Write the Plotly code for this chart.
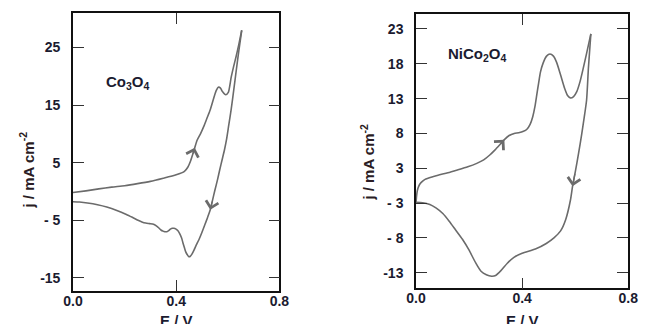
import plotly.graph_objects as go

# ---------------- Data ----------------
# Co3O4 cyclic voltammogram
co_anodic_E = [0.000, 0.050, 0.100, 0.150, 0.200, 0.250, 0.300, 0.350, 0.400, 0.432,
               0.445, 0.455, 0.463, 0.472, 0.481, 0.495, 0.507, 0.520, 0.532, 0.548,
               0.556, 0.563, 0.571, 0.580, 0.592, 0.602, 0.613, 0.622, 0.632, 0.643, 0.654]
co_anodic_j = [-0.2, 0.1, 0.45, 0.75, 1.0, 1.35, 1.75, 2.3, 2.9, 3.5,
               4.2, 5.2, 6.3, 7.6, 8.9, 10.1, 11.3, 12.8, 14.2, 16.6,
               17.6, 18.1, 18.0, 17.3, 16.8, 17.2, 19.8, 21.6, 23.4, 25.6, 28.0]
co_cathodic_E = [0.654, 0.643, 0.633, 0.623, 0.613, 0.604, 0.595, 0.587, 0.578, 0.569,
                 0.560, 0.550, 0.541, 0.532, 0.521, 0.511, 0.500, 0.488, 0.478, 0.469,
                 0.461, 0.454, 0.448, 0.443, 0.437, 0.432, 0.426, 0.421, 0.413, 0.406,
                 0.398, 0.391, 0.385, 0.379, 0.371, 0.364, 0.356, 0.349, 0.341, 0.334,
                 0.323, 0.312, 0.297, 0.282, 0.267, 0.252, 0.230, 0.207, 0.170, 0.131,
                 0.095, 0.056, 0.025, 0.000]
co_cathodic_j = [28.0, 24.5, 21.1, 17.6, 14.2, 11.6, 9.0, 7.2, 5.5, 3.8,
                 2.0, 0.2, -1.5, -3.2, -4.6, -5.8, -7.1, -8.4, -9.3, -10.2,
                 -10.9, -11.3, -11.3, -11.0, -10.5, -9.8, -8.9, -8.1, -7.3, -6.8,
                 -6.5, -6.4, -6.4, -6.5, -6.8, -7.0, -7.0, -6.9, -6.7, -6.4,
                 -6.0, -5.7, -5.6, -5.5, -5.3, -5.0, -4.5, -4.0, -3.3, -2.7,
                 -2.3, -2.0, -1.85, -1.8]

# NiCo2O4 cyclic voltammogram
ni_anodic_E = [0.000, 0.002, 0.005, 0.010, 0.016, 0.025, 0.034, 0.060, 0.083, 0.120,
               0.156, 0.195, 0.229, 0.255, 0.278, 0.297, 0.314, 0.333, 0.351, 0.370,
               0.387, 0.405, 0.418, 0.430, 0.440, 0.448, 0.455, 0.462, 0.469, 0.479,
               0.492, 0.505, 0.518, 0.530, 0.545, 0.560, 0.572, 0.582, 0.594, 0.606,
               0.618, 0.630, 0.643, 0.659]
ni_anodic_j = [-1.9, -1.0, -0.2, 0.4, 0.8, 1.15, 1.4, 1.75, 2.0, 2.35,
               2.75, 3.2, 3.7, 4.2, 4.9, 5.6, 6.3, 7.1, 7.7, 8.0,
               8.1, 8.3, 8.6, 9.3, 10.4, 11.8, 13.5, 15.2, 16.8, 18.1,
               19.1, 19.4, 19.1, 18.2, 16.4, 14.5, 13.4, 13.1, 13.3, 14.0,
               15.4, 17.3, 19.5, 22.3]
ni_cathodic_E = [0.659, 0.650, 0.643, 0.634, 0.625, 0.613, 0.600, 0.590, 0.582, 0.564,
                 0.545, 0.520, 0.491, 0.450, 0.400, 0.369, 0.345, 0.320, 0.300, 0.285,
                 0.265, 0.245, 0.225, 0.199, 0.175, 0.150, 0.125, 0.101, 0.075, 0.052,
                 0.025, 0.000]
ni_cathodic_j = [22.3, 17.5, 12.8, 10.3, 8.0, 5.2, 2.4, 0.4, -1.6, -4.4,
                 -6.0, -7.0, -7.8, -8.6, -9.2, -9.8, -10.6, -11.7, -12.4, -12.5,
                 -12.3, -11.8, -10.6, -8.7, -7.2, -5.9, -4.6, -3.5, -2.7, -2.2,
                 -1.95, -1.9]

# Axis ticks
x_tickvals = [0.0, 0.4, 0.8]
x_ticktext = ["0.0", "0.4", "0.8"]
co_tickvals = [25, 15, 5, -5, -15]
co_ticktext = ["25", "15", "5", "- 5", "-15"]
ni_tickvals = [23, 18, 13, 8, 3, -2, -7, -12]
ni_ticktext = ["23", "18", "13", "8", "3", "- 3", "- 8", "-13"]

# Indices of points where direction arrows (chevrons) are drawn
co_arrow_anodic, co_arrow_cathodic = 13, 13
ni_arrow_anodic, ni_arrow_cathodic = 17, 7

# ---------------- Figure ----------------
LINE = "#6b6b6b"
TXT = "#1b1b30"
FONT = "Liberation Sans, Arial, sans-serif"

fig = go.Figure()


def add_curve(E, j, xa, ya):
    fig.add_trace(go.Scatter(x=E, y=j, mode="lines", xaxis=xa, yaxis=ya,
                             line=dict(color=LINE, width=1.6, shape="spline", smoothing=0.6),
                             hoverinfo="skip", showlegend=False))


add_curve(co_anodic_E, co_anodic_j, "x", "y")
add_curve(co_cathodic_E, co_cathodic_j, "x", "y")
add_curve(ni_anodic_E, ni_anodic_j, "x2", "y2")
add_curve(ni_cathodic_E, ni_cathodic_j, "x2", "y2")


def chevron(E, j, i, xa, ya):
    return dict(x=E[i], y=j[i], ax=E[i - 1], ay=j[i - 1], xref=xa, yref=ya,
                axref=xa, ayref=ya, text="", showarrow=True, arrowhead=4,
                arrowsize=1.9, arrowwidth=1.3, arrowcolor=LINE, standoff=0)


W, H = 646, 324
tickfont = dict(family=FONT, size=14, color=TXT, weight="bold")
common_axis = dict(showgrid=False, zeroline=False, showline=True, linecolor="#111111",
                   linewidth=1.6, mirror="ticks", ticks="inside", ticklen=11,
                   tickwidth=1.4, tickcolor="#333333", tickfont=tickfont)

fig.update_layout(
    width=W, height=H,
    margin=dict(l=0, r=0, t=0, b=0),
    paper_bgcolor="white", plot_bgcolor="white",
    xaxis=dict(domain=[65 / W, 278 / W], range=[0, 0.8], tickvals=x_tickvals,
               ticktext=x_ticktext, anchor="y", ticklabelstandoff=-4, **common_axis),
    yaxis=dict(domain=[(H - 291) / H, (H - 13) / H], range=[-17.3, 31.0],
               tickvals=co_tickvals, ticktext=co_ticktext, anchor="x",
               ticklabelstandoff=8, **common_axis),
    xaxis2=dict(domain=[419 / W, 638 / W], range=[0, 0.8], tickvals=x_tickvals,
                ticktext=x_ticktext, anchor="y2", ticklabelstandoff=-4, **common_axis),
    yaxis2=dict(domain=[(H - 288.3) / H, (H - 14) / H], range=[-14.24, 25.15],
                tickvals=ni_tickvals, ticktext=ni_ticktext, anchor="x2",
                ticklabelstandoff=8, **common_axis),
)

title_font = dict(family=FONT, size=15, color=TXT, weight="bold")
label_font = dict(family=FONT, size=15, color=TXT, weight="bold")
ytitle_font = dict(family=FONT, size=15, color="#2a1c24", weight="bold")

annotations = [
    dict(text="Co<sub>3</sub>O<sub>4</sub>", x=0.214, y=18.9, xref="x", yref="y",
         showarrow=False, font=label_font),
    dict(text="NiCo<sub>2</sub>O<sub>4</sub>", x=0.231, y=19.4, xref="x2", yref="y2",
         showarrow=False, font=label_font),
    dict(text="E / V", x=171.5 / W, y=(H - 310) / H, xref="paper", yref="paper",
         xanchor="center", yanchor="top", showarrow=False, font=title_font),
    dict(text="E / V", x=528.5 / W, y=(H - 310) / H, xref="paper", yref="paper",
         xanchor="center", yanchor="top", showarrow=False, font=title_font),
    dict(text="j / mA cm<sup>-2</sup>", x=17 / W, y=(H - 170) / H, xref="paper", yref="paper",
         xanchor="center", yanchor="middle", textangle=-90, showarrow=False, font=ytitle_font),
    dict(text="j / mA cm<sup>-2</sup>", x=368 / W, y=(H - 162) / H, xref="paper", yref="paper",
         xanchor="center", yanchor="middle", textangle=-90, showarrow=False, font=ytitle_font),
    chevron(co_anodic_E, co_anodic_j, co_arrow_anodic, "x", "y"),
    chevron(co_cathodic_E, co_cathodic_j, co_arrow_cathodic, "x", "y"),
    chevron(ni_anodic_E, ni_anodic_j, ni_arrow_anodic, "x2", "y2"),
    chevron(ni_cathodic_E, ni_cathodic_j, ni_arrow_cathodic, "x2", "y2"),
]
fig.update_layout(annotations=annotations)

fig.write_html("out.html")
